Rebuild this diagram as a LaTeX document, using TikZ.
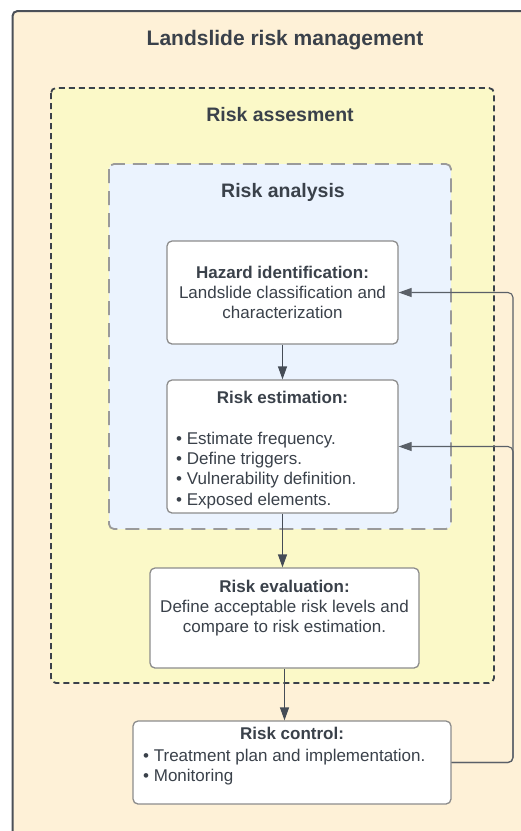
\documentclass[tikz,border=0pt]{standalone}
\usepackage{fontspec}
\setmainfont{Liberation Sans}
\usetikzlibrary{arrows.meta}
\definecolor{txt}{HTML}{3A414A}
\definecolor{outerfill}{HTML}{FEF1D7}
\definecolor{outerline}{HTML}{4B5058}
\definecolor{assfill}{HTML}{FBF9C8}
\definecolor{assline}{HTML}{3A414A}
\definecolor{anafill}{HTML}{EBF3FE}
\definecolor{analine}{HTML}{9A9A9A}
\definecolor{boxline}{HTML}{8C8C8C}
\definecolor{arrowc}{HTML}{454C56}
\definecolor{fbc}{HTML}{5A6068}
\newcommand{\bodyfont}{\fontsize{17pt}{20.3pt}\selectfont}
\begin{document}
\begin{tikzpicture}[x=1pt,y=-1pt,
  box/.style={draw=boxline, fill=white, rounded corners=5pt, line width=1.3pt, inner sep=0pt, align=center, font=\bodyfont, text=txt},
  lbl/.style={inner sep=0pt, font=\bodyfont, text=txt},
  head/.style={inner sep=0pt, font=\fontsize{19.5pt}{23pt}\selectfont\bfseries, text=txt},
  flow/.style={draw=arrowc, line width=1.3pt, -{Triangle[length=13pt,width=9pt]}},
  fb/.style={draw=fbc, line width=1.1pt, rounded corners=5pt, -{Triangle[length=13pt,width=9pt]}}
]
\useasboundingbox (0,0) rectangle (521,831);
\clip (0,0) rectangle (521,831);
% containers
\draw[fill=outerfill, draw=outerline, line width=2pt, rounded corners=5pt] (12.5,11) rectangle (560,870);
\draw[fill=assfill, draw=assline, line width=1.8pt, dash pattern=on 6pt off 4pt, rounded corners=5pt] (51,88) rectangle (494,683);
\draw[fill=anafill, draw=analine, line width=1.8pt, dash pattern=on 14pt off 8pt, rounded corners=5pt] (109,164) rectangle (451,529);
\node[head, font=\fontsize{21pt}{25pt}\selectfont\bfseries, anchor=base] (ttl) at (285,45.6) {Landslide risk management};
\node[head, anchor=base] (tass) at (280,121) {Risk assesment};
\node[head, anchor=base] (tana) at (283,197) {Risk analysis};
% boxes
\node[box, minimum width=231pt, minimum height=103pt] (haz) at (282.5,292.5)
  {\textbf{Hazard identification:}\\Landslide classification and\\characterization};
\node[box, minimum width=231pt, minimum height=133pt] (est) at (282.5,446.5) {};
\node[lbl, anchor=base] (estt) at (282.5,403) {\textbf{Risk estimation:}};
\node[lbl, anchor=north west, align=left] (estb) at (176,431.6)
  {• Estimate frequency.\\• Define triggers.\\• Vulnerability definition.\\• Exposed elements.};
\node[box, minimum width=269pt, minimum height=100pt] (eval) at (284.5,618) {};
\node[lbl, anchor=north, align=center] (evalt) at (284.5,579.6)
  {\textbf{Risk evaluation:}\\Define acceptable risk levels and\\compare to risk estimation.};
\node[box, minimum width=318pt, minimum height=83pt] (ctrl) at (292,762.5) {};
\node[lbl, anchor=base] (ctrlt) at (292,739) {\textbf{Risk control:}};
\node[lbl, anchor=north west, align=left] (ctrlb) at (143,748.8)
  {• Treatment plan and implementation.\\• Monitoring};
% arrows
\draw[flow] (haz.south) -- (est.north);
\draw[flow] (est.south) -- (est.south |- eval.north);
\draw[flow] (eval.south) -- (eval.south |- ctrl.north);
\coordinate (fbx) at (513,762.5);
\draw[fb] (ctrl.east) -- (fbx) |- (haz.east);
\draw[fb] (ctrl.east) -- (fbx) |- (est.east);
\end{tikzpicture}
\end{document}
